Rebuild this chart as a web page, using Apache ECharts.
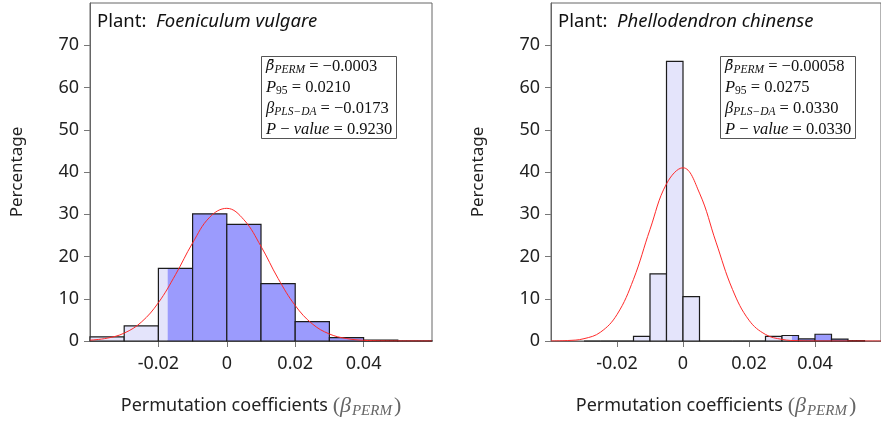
<!DOCTYPE html>
<html>
<head>
<meta charset="utf-8">
<script src="https://cdn.jsdelivr.net/npm/echarts@6/dist/echarts.min.js"></script>
<style>
  html, body { margin: 0; padding: 0; background: #fff; }
  #chart { width: 881px; height: 424px; }
</style>
</head>
<body>
<div id="chart"></div>
<script>
// Permutation-test histograms (percentage of permutations per bin) with fitted curves.

const xTickValues = [-0.02, 0, 0.02, 0.04];
const yTickValues = [0, 10, 20, 30, 40, 50, 60, 70];

// Foeniculum vulgare
const foeniculumEdges = [-0.04, -0.03, -0.02, -0.01, 0, 0.01, 0.02, 0.03, 0.04, 0.05, 0.06];
const foeniculumPct = [1.0, 3.6, 17.2, 30.1, 27.6, 13.6, 4.6, 0.8, 0.2, 0.05];
const foeniculumPlsDa = -0.0173;
const foeniculumStats = ['\u22120.0003', '0.0210', '\u22120.0173', '0.9230'];

// Phellodendron chinense
const phellodendronEdges = [-0.03, -0.025, -0.02, -0.015, -0.01, -0.005, 0, 0.005, 0.01, 0.015,
                            0.02, 0.025, 0.03, 0.035, 0.04, 0.045, 0.05, 0.055];
const phellodendronPct = [0, 0, 0, 1.1, 15.9, 66.2, 10.5, 0, 0, 0, 0, 1.1, 1.3, 0.5, 1.6, 0.45, 0.1];
const phellodendronPlsDa = 0.0330;
const phellodendronStats = ['\u22120.00058', '0.0275', '0.0330', '0.0330'];

// fitted normal curves, sampled along the x axis
const curveX = [-0.04, -0.035, -0.03, -0.025, -0.02, -0.015, -0.01, -0.005, 0, 0.005, 0.01,
                0.015, 0.02, 0.025, 0.03, 0.035, 0.04, 0.045, 0.05, 0.055, 0.06];
const foeniculumCurve = [0.2, 0.67, 1.87, 4.46, 9.07, 15.7, 23.2, 29.3, 31.4, 28.7, 22.4,
                         14.8, 8.4, 4.05, 1.66, 0.58, 0.17, 0.04, 0.01, 0, 0];
const phellodendronCurve = [0.02, 0.11, 0.55, 2.09, 6.26, 14.6, 26.4, 37.2, 41.0, 35.0, 23.4,
                            12.2, 4.92, 1.55, 0.38, 0.07, 0.01, 0, 0, 0, 0];

const LIGHT = '#e4e4fb';
const DARK = '#9b9bfd';
const SANS = 'Noto Sans';
const SERIF = 'Liberation Serif';

function histSeries(idx, edges, pct, thr) {
  const data = pct.map((v, i) => [edges[i], edges[i + 1], v]);
  return {
    type: 'custom',
    xAxisIndex: idx, yAxisIndex: idx,
    data: data,
    encode: { x: [0, 1], y: 2 },
    z: 2,
    renderItem: function (params, api) {
      const x0 = api.value(0), x1 = api.value(1), v = api.value(2);
      const children = [];
      const fillPart = (a, b, color) => {
        const q0 = api.coord([a, 0]), q1 = api.coord([b, v]);
        children.push({
          type: 'rect',
          shape: { x: q0[0], y: q1[1], width: q1[0] - q0[0], height: q0[1] - q1[1] },
          style: { fill: color }
        });
      };
      if (x1 <= thr) fillPart(x0, x1, LIGHT);
      else if (x0 >= thr) fillPart(x0, x1, DARK);
      else { fillPart(x0, thr, LIGHT); fillPart(thr, x1, DARK); }
      const p0 = api.coord([x0, 0]), p1 = api.coord([x1, v]);
      children.push({
        type: 'rect',
        shape: { x: p0[0], y: p1[1], width: p1[0] - p0[0], height: p0[1] - p1[1] },
        style: { fill: null, stroke: '#1c1c1c', lineWidth: 1.2 }
      });
      return { type: 'group', children: children };
    }
  };
}

function curveSeries(idx, ys) {
  return {
    type: 'line',
    xAxisIndex: idx, yAxisIndex: idx,
    data: curveX.map((x, i) => [x, ys[i]]),
    smooth: 0.4,
    showSymbol: false,
    z: 5,
    lineStyle: { color: '#ff2a2a', width: 1 },
    silent: true
  };
}

function xAxisFor(idx) {
  return {
    type: 'value', gridIndex: idx, min: -0.04, max: 0.06, interval: 0.02,
    axisLine: { show: true, onZero: false, lineStyle: { color: '#666', width: 1 } },
    axisTick: { show: true, customValues: xTickValues, length: 6, lineStyle: { color: '#777' } },
    axisLabel: {
      customValues: xTickValues, margin: 14, fontFamily: SANS, fontSize: 18, color: '#222',
      formatter: v => (v === 0 ? '0' : String(v))
    },
    splitLine: { show: false },
    name: '{t|Permutation coefficients }{p|(}{b|\u03b2}{s|PERM}{p|)}',
    nameLocation: 'middle', nameGap: 52,
    nameTextStyle: {
      rich: {
        t: { fontFamily: SANS, fontSize: 18, color: '#222', lineHeight: 26 },
        p: { fontFamily: SERIF, fontSize: 22, color: '#666', lineHeight: 26 },
        b: { fontFamily: SERIF, fontStyle: 'italic', fontSize: 22, color: '#666', lineHeight: 26, padding: [0, 1, 0, 0] },
        s: { fontFamily: SERIF, fontStyle: 'italic', fontSize: 15, color: '#666', verticalAlign: 'bottom', padding: [0, 2, 0, 0] }
      }
    }
  };
}

function yAxisFor(idx) {
  return {
    type: 'value', gridIndex: idx, min: 0, max: 80, interval: 10,
    axisLine: { show: true, onZero: false, lineStyle: { color: '#666', width: 1 } },
    axisTick: { show: true, customValues: yTickValues, length: 6, lineStyle: { color: '#777' } },
    axisLabel: { customValues: yTickValues, margin: 11, fontFamily: SANS, fontSize: 18, color: '#222' },
    splitLine: { show: false },
    name: 'Percentage', nameLocation: 'middle', nameGap: 64,
    nameTextStyle: { fontFamily: SANS, fontSize: 17, color: '#222' }
  };
}

function plantTitle(left, name) {
  return {
    text: '{a|Plant:  }{b|' + name + '}',
    left: left, top: 12, padding: 0,
    textStyle: {
      fontWeight: 'normal',
      rich: {
        a: { fontFamily: SANS, fontSize: 18.5, fontWeight: 'normal', color: '#111' },
        b: { fontFamily: SANS, fontStyle: 'italic', fontWeight: 'normal', fontSize: 18.5, color: '#111' }
      }
    }
  };
}

function statsBox(left, stats) {
  const lines = [
    '{m|\u03b2\u0304}{s|PERM}{n| = ' + stats[0] + '}',
    '{g|P}{u|95}{n| = ' + stats[1] + '}',
    '{g|\u03b2}{s|PLS\u2212DA}{n| = ' + stats[2] + '}',
    '{g|P}{n| \u2212 }{g|value}{n| = ' + stats[3] + '}'
  ];
  return {
    text: lines.join('\n'),
    left: left, top: 54,
    padding: [2, 4, 1, 5],
    borderColor: '#555', borderWidth: 1, backgroundColor: '#fff',
    textStyle: {
      width: 127,
      fontWeight: 'normal',
      rich: {
        m: { fontFamily: 'DejaVu Serif', fontStyle: 'italic', fontWeight: 'normal', fontSize: 14.5, lineHeight: 21, color: '#111' },
        g: { fontFamily: SERIF, fontStyle: 'italic', fontWeight: 'normal', fontSize: 16.5, lineHeight: 21, color: '#111' },
        n: { fontFamily: SERIF, fontWeight: 'normal', fontSize: 16.5, lineHeight: 21, color: '#111' },
        s: { fontFamily: SERIF, fontStyle: 'italic', fontWeight: 'normal', fontSize: 11.5, color: '#111', verticalAlign: 'bottom', padding: [0, 0, 1, 0] },
        u: { fontFamily: SERIF, fontWeight: 'normal', fontSize: 11.5, color: '#111', verticalAlign: 'bottom', padding: [0, 0, 1, 0] }
      }
    }
  };
}

const chart = echarts.init(document.getElementById('chart'), null, { renderer: 'canvas' });
chart.setOption({
  backgroundColor: '#fff',
  animation: false,
  title: [
    plantTitle(97, 'Foeniculum vulgare'),
    plantTitle(558, 'Phellodendron chinense'),
    statsBox(261, foeniculumStats),
    statsBox(720, phellodendronStats)
  ],
  grid: [
    { left: 90, top: 3, width: 342, height: 341, show: true, borderColor: '#666', borderWidth: 1, containLabel: false },
    { left: 551, top: 3, width: 342, height: 341, show: true, borderColor: '#666', borderWidth: 1, containLabel: false }
  ],
  xAxis: [xAxisFor(0), xAxisFor(1)],
  yAxis: [yAxisFor(0), yAxisFor(1)],
  series: [
    histSeries(0, foeniculumEdges, foeniculumPct, foeniculumPlsDa),
    curveSeries(0, foeniculumCurve),
    histSeries(1, phellodendronEdges, phellodendronPct, phellodendronPlsDa),
    curveSeries(1, phellodendronCurve)
  ]
});
</script>
</body>
</html>
